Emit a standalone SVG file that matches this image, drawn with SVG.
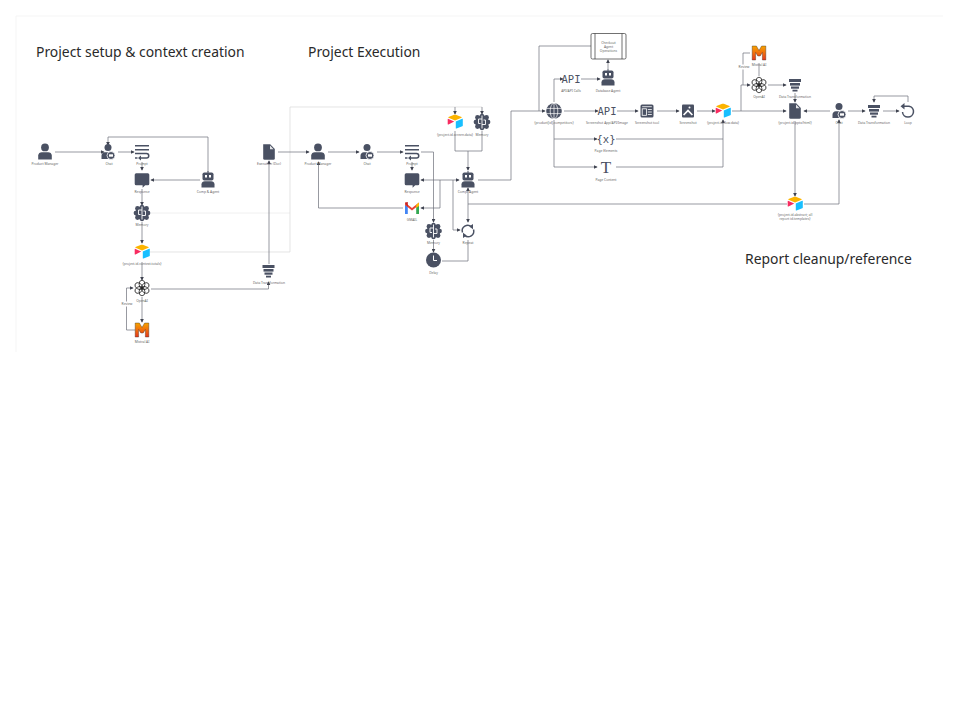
<svg xmlns="http://www.w3.org/2000/svg" xmlns:xlink="http://www.w3.org/1999/xlink" width="960" height="720" viewBox="0 0 960 720">
<style>
text{font-family:"Noto Sans","Open Sans","Liberation Sans",sans-serif}
.h{font-size:13.9px;fill:#2a2a2a}
.l{font-size:3.3px;fill:#666;text-anchor:middle}
.c{fill:none;stroke:#6b6f78;stroke-width:.7;marker-end:url(#a)}
.n{fill:none;stroke:#6b6f78;stroke-width:.7}
.f{fill:none;stroke:#d9d9d9;stroke-width:.7}
.m{fill:none;stroke:#ececec;stroke-width:.8}
.d{fill:#4a5163}
.s{fill:none;stroke:#4a5163;stroke-width:1.5}
.o{fill:none;stroke:#222;stroke-width:.8}
.w{fill:#fff}
.api{font-family:"DejaVu Sans Mono","Liberation Mono",monospace;font-size:10.5px;fill:#4a5163;text-anchor:middle}
</style>
<defs>
<marker id="a" viewBox="0 0 6 6" refX="5" refY="3" markerWidth="4" markerHeight="4" orient="auto" markerUnits="userSpaceOnUse"><path d="M0 0L6 3L0 6z" fill="#3f4350"/></marker>
<linearGradient id="mg" x1="0" y1="0" x2="0" y2="1"><stop offset="0" stop-color="#f7a400"/><stop offset="1" stop-color="#e8371c"/></linearGradient>
<g id="person"><circle cy="-4.6" r="3.9" class="d"/><path class="d" d="M-6.8 7.6V3.6C-6.8 1.300-5 .2-3.200.2H3.200C5 .2 6.800 1.300 6.800 3.600V7.600Z"/></g>
<g id="chatp"><circle cy="-4.600" r="3.500" class="d"/><path class="d" d="M-6.500 7V3.800C-6.500 1.500-5 .3-3.200.3H2V7Z"/><circle cx="3" cy="3.500" r="4" class="d" stroke="#fff" stroke-width=".8"/><rect x="1" y="2.300" width="4" height="2.400" class="w"/></g>
<g id="prompt"><path class="s" d="M-7-6.200H7M-7-2.300H7M-7 1.500H4.500C7.500 1.500 7.500 6 4.500 6H-1"/><path class="d" d="M-1 3.500V8.500L-4 6Z"/><path class="s" d="M-7 6H-4.500"/></g>
<g id="bubble"><path class="d" d="M-5.800-6.800H5.800Q7.300-6.800 7.300-5.300V3.800Q7.300 5.300 5.800 5.300H3.200L.6 7.800V5.300H-5.800Q-7.300 5.300-7.300 3.800V-5.300Q-7.300-6.800-5.800-6.800Z"/></g>
<g id="robot"><rect x="-5.500" y="-7.500" width="11" height="8" rx="1.800" class="d"/><rect x="-.5" y="-9" width="1" height="2" class="d"/><rect x="-3" y="-5" width="2" height="2.500" class="w"/><rect x="1" y="-5" width="2" height="2.500" class="w"/><path class="d" d="M-6.500 7.500V4.200C-6.500 2.200-5 1.200-3.200 1.200H3.200C5 1.200 6.500 2.200 6.500 4.200V7.500Z"/></g>
<g id="brain"><circle r="6.800" class="d"/><circle cy="-6" r="2.200" class="d"/><circle cy="6" r="2.200" class="d"/><circle cx="-4.500" cy="-4.500" r="2.400" class="d"/><circle cx="4.500" cy="-4.500" r="2.400" class="d"/><circle cx="-6.200" r="2.200" class="d"/><circle cx="6.200" r="2.200" class="d"/><circle cx="-4.500" cy="4.500" r="2.400" class="d"/><circle cx="4.500" cy="4.500" r="2.400" class="d"/><path d="M0-6.500V6.500M-3.500-3H0M0 2.500H3.500M-3.500-3V1.500H-1.500M3.500 2.500V-2H1.500" fill="none" stroke="#fff" stroke-width=".9"/></g>
<g id="air"><path d="M-.8-7.200L-6.500-4.900Q-7-4.500-6.500-4.200L0-1.600L6.500-4.200Q7-4.500 6.500-4.900L.8-7.200Z" fill="#fcb400"/><path d="M.8-.5V6.200Q.8 6.800 1.500 6.500L7.300 4.200Q7.800 4 7.800 3.400V-3Q7.800-3.500 7.200-3.300Z" fill="#18bfff"/><path d="M-.8-.4L-6.500 2.500Q-7.300 2.700-7.300 2V-2.800Q-7.300-3.500-6.500-3Z" fill="#f82b60"/></g>
<g id="openai"><g id="petals"><ellipse cy="-3.800" rx="2.900" ry="4" class="o"/><ellipse cy="-3.800" rx="2.900" ry="4" class="o" transform="rotate(60)"/><ellipse cy="-3.800" rx="2.900" ry="4" class="o" transform="rotate(120)"/><ellipse cy="-3.800" rx="2.900" ry="4" class="o" transform="rotate(180)"/><ellipse cy="-3.800" rx="2.900" ry="4" class="o" transform="rotate(240)"/><ellipse cy="-3.800" rx="2.900" ry="4" class="o" transform="rotate(300)"/></g></g>
<g id="mistral"><path fill="url(#mg)" stroke="#3a2a20" stroke-width=".4" d="M-6.800-7H-2.600L0-2.500L2.600-7H6.800V7H3.400V-.5L1.200 3H-1.200L-3.400-.5V7H-6.800Z"/></g>
<g id="funnel" class="d"><rect x="-6" y="-6" width="12" height="3"/><rect x="-5" y="-2" width="10" height="2.600"/><rect x="-4" y="1.500" width="8" height="2.200"/><rect x="-2.500" y="4.700" width="5" height="1.800"/></g>
<g id="doc"><path class="d" d="M-5.800-7.800H1.200L5.800-3V6.400Q5.800 7.800 4.400 7.800H-4.400Q-5.800 7.800-5.800 6.400Z"/><path class="w" d="M1-6.500V-2.800H4.600Z" opacity=".85"/></g>
<g id="gmail"><path d="M-7-5V6H-4.200V-1.500Z" fill="#4285f4"/><path d="M7-5V6H4.200V-1.500Z" fill="#34a853"/><path d="M-7-5.500L0 0L7-5.500V-3L0 2.500L-7-3Z" fill="#ea4335"/><path d="M-7-5.500L-4.200-6V-1Z" fill="#c5221f"/><path d="M4.200-3.300L7-5.500V-2L4.200 0Z" fill="#fbbc04"/></g>
<g id="repeat"><path class="s" d="M-5.500 1.500A5.500 5.500 0 0 1 3.500-4.200M5.500-1.500A5.500 5.500 0 0 1-3.500 4.200"/><path class="d" d="M5-7V-1.800L1.200-4.500ZM-5 7V1.800L-1.200 4.500Z"/></g>
<g id="clock"><circle r="7.500" class="d"/><path d="M0-4.500V.5H3.500" fill="none" stroke="#fff" stroke-width="1"/></g>
<g id="globe"><circle r="7.800" class="d"/><path d="M-7.800-2.600H7.800M-7.800 2.600H7.800M0-7.800V7.800" stroke="#fff" stroke-width=".7" fill="none"/><ellipse rx="3.800" ry="7.800" fill="none" stroke="#fff" stroke-width=".7"/></g>
<g id="stool"><rect x="-6.500" y="-6.500" width="13" height="13" rx="1.500" class="d"/><rect x="-4.800" y="-2.200" width="4.300" height="6.500" fill="none" stroke="#fff" stroke-width=".8"/><path d="M.8-1.500H4.800M.8 1H4.800M.8 3.500H4.800M-4.800-4.300H4.800" stroke="#fff" stroke-width=".8"/></g>
<g id="image"><rect x="-6" y="-6.500" width="12" height="13" rx="1" class="d"/><path class="w" d="M-5 3.500L0-1.800L5 3.500L3.800 4.500L0 .8L-3.800 4.500Z"/><circle cx="1.500" cy="-3.500" r="1" class="w"/></g>
<g id="loop"><path class="s" d="M-4.500-4.800H1A5.500 5.500 0 1 1-5.500 1"/><path class="d" d="M-3.500-8V-1.600L-7.500-4.800Z"/></g>
</defs>

<path d="M16 352V16H943" fill="none" stroke="#f2f2f2" stroke-width=".8"/>

<g id="connectors">
<path class="m" d="M151 213H290"/>
<path class="f" d="M150 252H290V107H482"/>
<path class="c" d="M455 107V114"/><path class="c" d="M482 107V114"/>
<path class="c" d="M55 152H104"/>
<path class="c" d="M118 152H134"/>
<path class="c" d="M142 162V170"/>
<path class="c" d="M208 172V137H108V145"/>
<path class="c" d="M200 180H151"/>
<path class="c" d="M142 189V205"/>
<path class="c" d="M142 222V243"/>
<path class="c" d="M142 262V280"/>
<path class="c" d="M142 297V322"/>
<path class="c" d="M135 330H126.500V288H133"/>
<path class="c" d="M151 289H268.500V282"/>
<path class="c" d="M269 264V161"/>
<path class="c" d="M278 152H309"/>
<path class="c" d="M328 152H359"/>
<path class="c" d="M377 152H403"/>
<path class="c" d="M421 152H433.500V222"/>
<path class="c" d="M412 162V170"/>
<path class="c" d="M440 180H421"/>
<path class="c" d="M440 180H459"/>
<path class="c" d="M440 180V208H421"/>
<path class="c" d="M453 180V230H460"/>
<path class="c" d="M403 208H318.500V162"/>
<path class="c" d="M433.500 240V252"/>
<path class="n" d="M442 261H468V240"/>
<path class="c" d="M468 205V222"/>
<path class="c" d="M468 205V188"/>
<path class="n" d="M455 131V151H482V131"/>
<path class="c" d="M468 151V170"/>
<path class="c" d="M478 180H511V111H545"/>
<path class="n" d="M468 204H787"/>
<path class="c" d="M804 204H839V120"/>
<path class="c" d="M795 121V196"/>
<path class="n" d="M591 46H539V111"/>
<path class="c" d="M554 102V79H563"/>
<path class="c" d="M581 79H600"/>
<path class="c" d="M608 69V60"/>
<path class="c" d="M564 111H598"/>
<path class="c" d="M617 111H638"/>
<path class="c" d="M657 111H679"/>
<path class="c" d="M697 111H715"/>
<path class="c" d="M554 120V139H597"/>
<path class="c" d="M554 139V167H597"/>
<path class="c" d="M616 139H723V120"/>
<path class="n" d="M616 167H723V139"/>
<path class="c" d="M732 111H786"/>
<path class="c" d="M741 111V85H750"/>
<path class="n" d="M759 76V63"/>
<path class="n" d="M750 53H743V85"/>
<path class="c" d="M768 85H786"/>
<path class="c" d="M795 93V102"/>
<path class="c" d="M830 111H804"/>
<path class="c" d="M848 111H865"/>
<path class="c" d="M883 111H899"/>
<path class="c" d="M908 102V96H874V102"/>
<rect x="122.500" y="301.500" width="9" height="5" fill="#fff"/>
<rect x="739.500" y="64.500" width="9" height="5" fill="#fff"/>
<text class="l" x="127" y="305">Review</text>
<text class="l" x="744" y="68">Review</text>
</g>

<text class="h" x="36" y="57">Project setup &amp; context creation</text>
<text class="h" x="308" y="57">Project Execution</text>
<text class="h" x="745" y="264">Report cleanup/reference</text>

<g id="n1"><use href="#person" x="45" y="152"/><text class="l" x="45" y="165">Product Manager</text></g>
<g id="n2"><use href="#chatp" x="108" y="152"/><text class="l" x="109" y="165">Chat</text></g>
<g id="n3"><use href="#prompt" x="142" y="152"/><text class="l" x="142" y="165">Prompt</text></g>
<g id="n4"><use href="#bubble" x="142" y="180"/><text class="l" x="142" y="193">Response</text></g>
<g id="n5"><use href="#robot" x="208" y="180"/><text class="l" x="208" y="193">Comp &amp; Agent</text></g>
<g id="n6"><use href="#brain" x="142" y="213"/><text class="l" x="142" y="226">Memory</text></g>
<g id="n7"><use href="#air" x="142" y="252"/><text class="l" x="142" y="265">{project.id.context.totals}</text></g>
<g id="n8"><use href="#openai" x="142" y="288"/><text class="l" x="142" y="302">OpenAI</text></g>
<g id="n9"><use href="#mistral" x="142" y="330"/><text class="l" x="142" y="343">Mistral AI</text></g>
<g id="n10"><use href="#funnel" x="268.500" y="271"/><text class="l" x="269" y="284">Data Transformation</text></g>
<g id="n11"><use href="#doc" x="269" y="152"/><text class="l" x="269" y="165">Execution (Doc)</text></g>
<g id="n12"><use href="#person" x="318" y="152"/><text class="l" x="318" y="165">Product Manager</text></g>
<g id="n13"><use href="#chatp" x="367" y="152"/><text class="l" x="367" y="165">Chat</text></g>
<g id="n14"><use href="#prompt" x="412" y="152"/><text class="l" x="412" y="165">Prompt</text></g>
<g id="n15"><use href="#bubble" x="412" y="180"/><text class="l" x="412" y="193">Response</text></g>
<g id="n16"><use href="#gmail" x="412" y="208"/><text class="l" x="412" y="221">GMAIL</text></g>
<g id="n17"><use href="#brain" x="433.500" y="231"/><text class="l" x="433.500" y="244">Memory</text></g>
<g id="n18"><use href="#clock" x="433.500" y="260"/><text class="l" x="433.500" y="274">Delay</text></g>
<g id="n19"><use href="#repeat" x="468" y="231"/><text class="l" x="468" y="244">Repeat</text></g>
<g id="n20"><use href="#robot" x="468" y="180"/><text class="l" x="468" y="193">Comp/ Agent</text></g>
<g id="n21"><use href="#air" x="455" y="122"/><text class="l" x="455" y="136">{project.id.screen.data}</text></g>
<g id="n22"><use href="#brain" x="482" y="122"/><text class="l" x="482" y="136">Memory</text></g>
<g id="n23"><use href="#globe" x="554" y="111"/><text class="l" x="554" y="124">{product[id].competitors}</text></g>
<g id="n24"><text class="api" x="571" y="83">API</text><text class="l" x="571" y="92">API/API Calls</text></g>
<g id="n25"><use href="#robot" x="608" y="78"/><text class="l" x="608" y="92">Database Agent</text></g>
<g id="n26"><rect x="591" y="33.500" width="35" height="25.500" rx="1.500" fill="#fff" stroke="#333" stroke-width=".7"/><path d="M595 33.500V59M622 33.500V59" stroke="#333" stroke-width=".7"/><text class="l" x="608.500" y="43.500">Checkout</text><text class="l" x="608.500" y="47.700">Agent</text><text class="l" x="608.500" y="51.900">Operations</text></g>
<g id="n27"><text class="api" x="607" y="115">API</text><text class="l" x="607" y="124">Screenshot App/API/Image</text></g>
<g id="n28"><use href="#stool" x="647" y="111"/><text class="l" x="647" y="124">Screenshot tool</text></g>
<g id="n29"><use href="#image" x="688" y="111"/><text class="l" x="688" y="124">Screenshot</text></g>
<g id="n30"><use href="#air" x="723" y="111"/><text class="l" x="723" y="124">{project.id.flow.data}</text></g>
<g id="n31"><text class="api" x="606" y="143">{x}</text><text class="l" x="606" y="152">Page Elements</text></g>
<g id="n32"><text x="606" y="172.500" font-size="17" fill="#4a5163" text-anchor="middle" style="font-family:'Liberation Serif',serif">T</text><text class="l" x="606" y="180.500">Page Content</text></g>
<g id="n33"><use href="#mistral" x="759" y="53"/><text class="l" x="759" y="66">Mistral AI</text></g>
<g id="n34"><use href="#openai" x="759" y="85"/><text class="l" x="759" y="98">OpenAI</text></g>
<g id="n35"><use href="#funnel" x="795" y="85"/><text class="l" x="795" y="98">Data Transformation</text></g>
<g id="n36"><use href="#doc" x="795" y="111"/><text class="l" x="795" y="124">{project.id.pptx/html}</text></g>
<g id="n37"><use href="#chatp" x="839" y="111"/><text class="l" x="839" y="124">Chat</text></g>
<g id="n38"><use href="#funnel" x="874" y="111"/><text class="l" x="874" y="124">Data Transformation</text></g>
<g id="n39"><use href="#loop" x="908" y="111"/><text class="l" x="908" y="124">Loop</text></g>
<g id="n40"><use href="#air" x="795" y="204"/><text class="l" x="795" y="216">{project.id.abstract; all</text><text class="l" x="795" y="220">report id.templates}</text></g>
</svg>
